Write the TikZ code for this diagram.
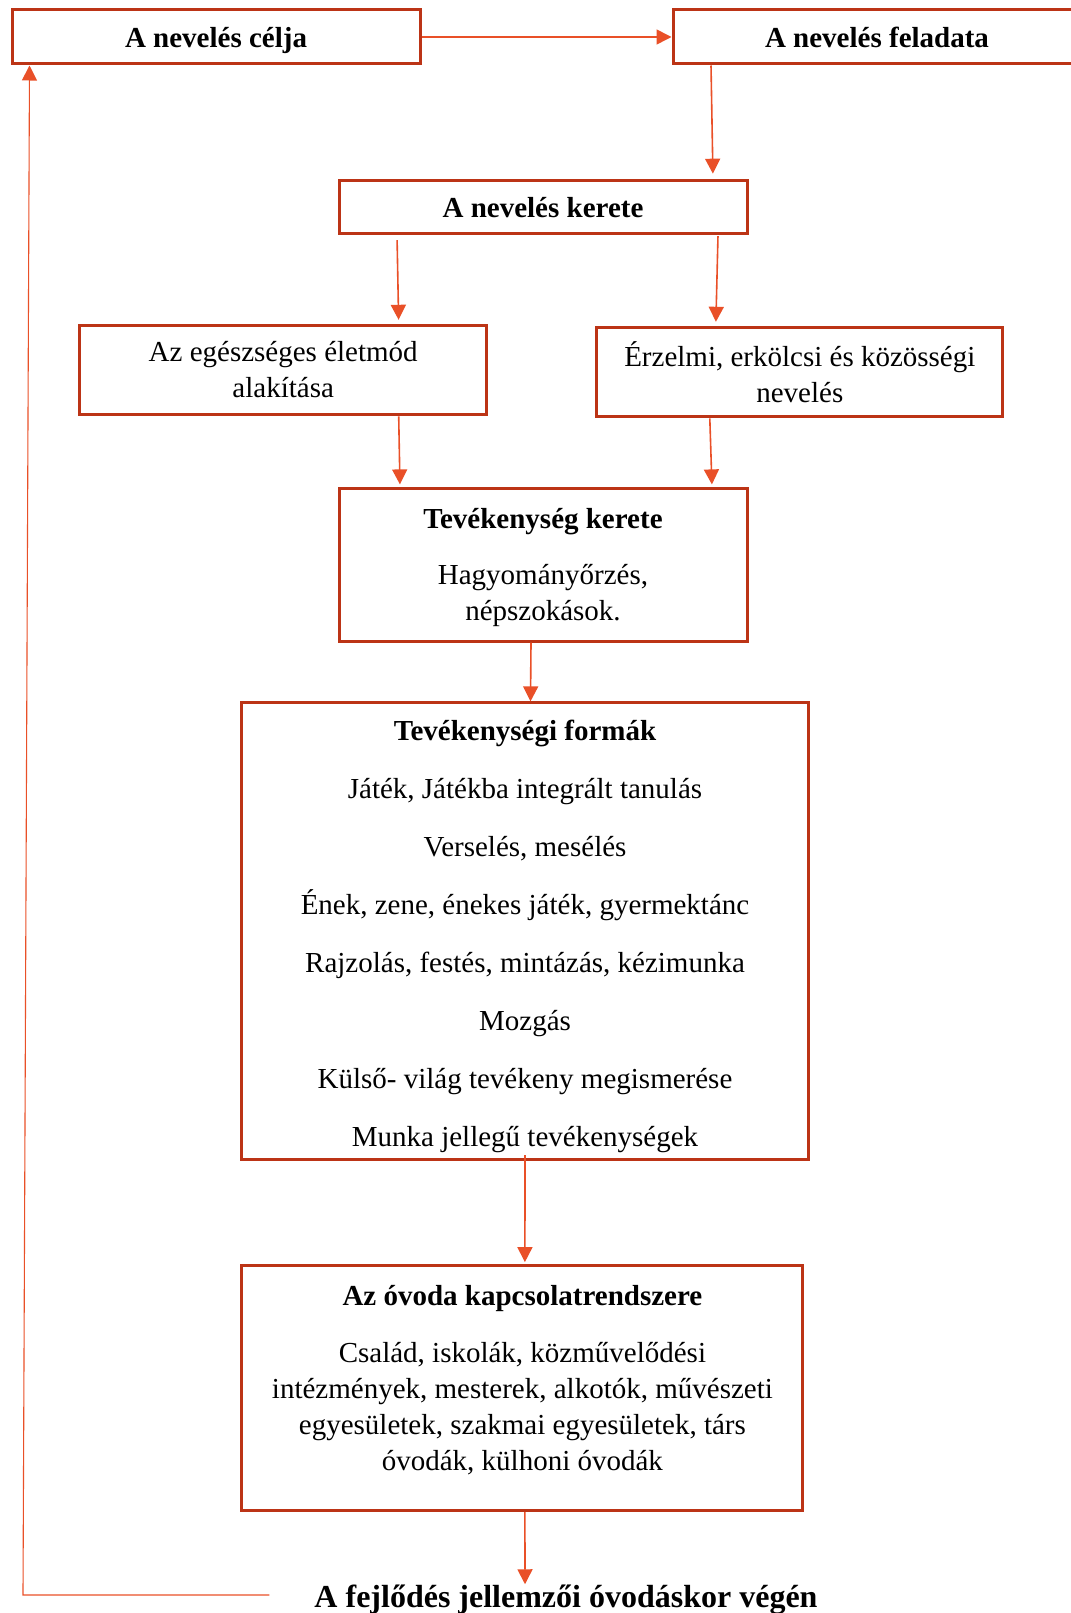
\documentclass[tikz,border=0pt]{standalone}
\usepackage{fontspec}
\setmainfont{Liberation Serif}
\usepackage{tikz}
\usetikzlibrary{arrows.meta,positioning}

\definecolor{boxred}{RGB}{188,52,22}
\definecolor{arrred}{RGB}{233,80,40}

\tikzset{
  box/.style={rectangle, draw=boxred, line width=3pt, align=center, inner sep=0pt,
              font=\fontsize{29}{36}\selectfont},
  head/.style={box, text height=21pt, text depth=0pt, font=\fontsize{29}{36}\selectfont\bfseries},
  arr/.style={draw=arrred, line width=1.6pt, -{Triangle[length=15pt,width=15pt]}},
}

\begin{document}
\begin{tikzpicture}[x=1pt, y=-1pt, node distance=100pt]
    \useasboundingbox (0,0) rectangle (1070,1613);

    \node (celja) [head, minimum width=408pt, minimum height=54pt] at (216,37) {A nevelés célja};
    \node (feladata) [head, right=250pt of celja, minimum width=408pt, minimum height=54pt] {A nevelés feladata};
    \node (kerete) [head, below=113.2pt of celja, xshift=327pt, minimum width=408pt, minimum height=53.5pt] {A nevelés kerete};
    \node (egeszseg) [box, below=88.6pt of kerete, xshift=-259.8pt, minimum width=407pt, minimum height=89.5pt] {Az egészséges életmód\\alakítása};
    \node (erzelmi) [box, right=107.1pt of egeszseg, yshift=-2pt, minimum width=406pt, minimum height=89.5pt] {Érzelmi, erkölcsi és közösségi\\nevelés};
    \node (tevkeret) [box, below=252.2pt of kerete, minimum width=408pt, minimum height=152.3pt]
        {\rule{0pt}{25pt}\textbf{Tevékenység kerete}\\[20pt]Hagyományőrzés,\\népszokások.};
    \node (formak) [box, below=58.7pt of tevkeret, xshift=-18pt, minimum width=567pt, minimum height=456.8pt]
        {\rule{0pt}{30pt}\textbf{Tevékenységi formák}\\[22pt]
         Játék, Játékba integrált tanulás\\[22pt]
         Verselés, mesélés\\[22pt]
         Ének, zene, énekes játék, gyermektánc\\[22pt]
         Rajzolás, festés, mintázás, kézimunka\\[22pt]
         Mozgás\\[22pt]
         Külső- világ tevékeny megismerése\\[22pt]
         Munka jellegű tevékenységek};
    \node (kapcsolat) [box, below=102.9pt of formak, xshift=-2.6pt, minimum width=561pt, minimum height=244.9pt]
        {\textbf{Az óvoda kapcsolatrendszere}\\[21pt]
         Család, iskolák, közművelődési\\
         intézmények, mesterek, alkotók, művészeti\\
         egyesületek, szakmai egyesületek, társ\\
         óvodák, külhoni óvodák\rule[-20pt]{0pt}{0pt}};
    \node (fejl) [anchor=base, inner sep=0pt, font=\fontsize{32}{38}\selectfont\bfseries] at (566,1607) {A fejlődés jellemzői óvodáskor végén};
    \coordinate (fbcorner) at (23,1595);

    \draw [arr] (celja.east) -- (feladata.west);
    \draw [arr, shorten >=5pt] ([xshift=-166pt]feladata.south) -- ([xshift=170pt]kerete.north);
    \draw [arr, shorten <=5pt, shorten >=4pt] ([xshift=-146pt]kerete.south) -- ([xshift=115.5pt]egeszseg.north);
    \draw [arr, shorten <=1pt, shorten >=4pt] ([xshift=175pt]kerete.south) -- ([xshift=-84pt]erzelmi.north);
    \draw [arr, shorten >=3pt] ([xshift=115.5pt]egeszseg.south) -- ([xshift=-143pt]tevkeret.north);
    \draw [arr, shorten >=3pt] ([xshift=-90pt]erzelmi.south) -- ([xshift=169pt]tevkeret.north);
    \draw [arr] ([xshift=-12pt]tevkeret.south) -- ([xshift=5.5pt]formak.north);
    \draw [arr, shorten <=-6pt, shorten >=2pt] (formak.south) -- ([xshift=2.5pt]kapcsolat.north);
    \draw [arr] ([xshift=2.5pt]kapcsolat.south) -- ([xshift=-41pt]fejl.north);
    \draw [arr, line width=1.1pt] ([xshift=-45pt]fejl.west |- fbcorner) -- (fbcorner) -- ([xshift=19pt]celja.south west);
\end{tikzpicture}
\end{document}
